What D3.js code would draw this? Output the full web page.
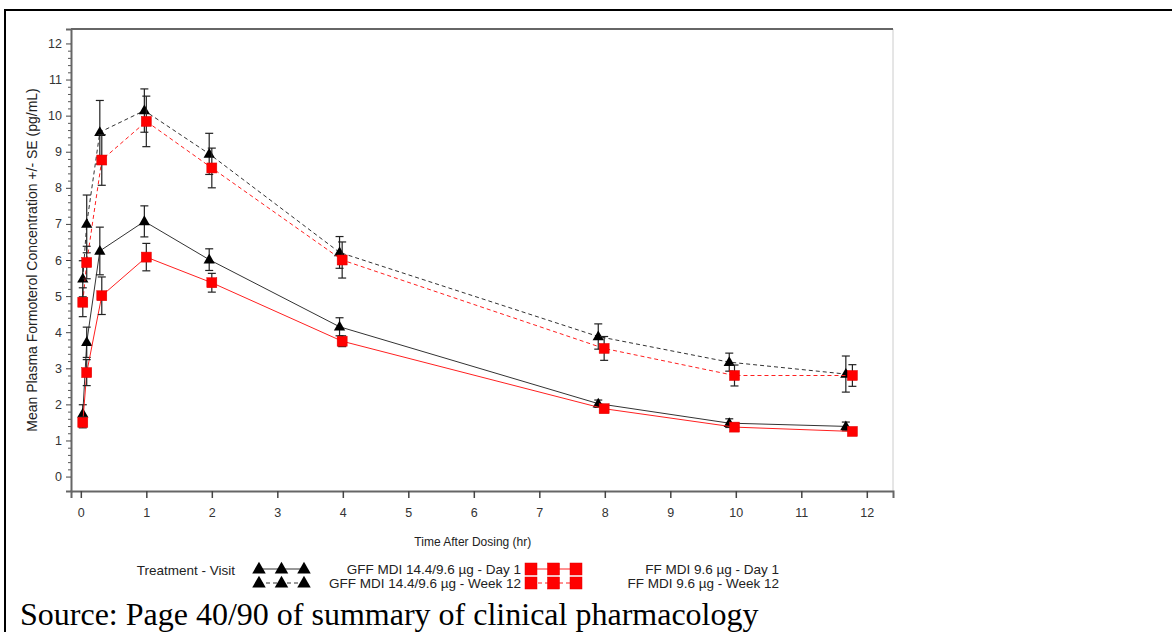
<!DOCTYPE html>
<html>
<head>
<meta charset="utf-8">
<script src="https://cdn.jsdelivr.net/npm/d3@7"></script>
<style>
  body { margin: 0; background: #fff; }
  svg text { font-family: "Liberation Sans", Arial, sans-serif; }
</style>
</head>
<body>
<div id="chart"></div>
<script>
// sampling times (hr), slightly different mean times per treatment
const gffTimes = [0.03, 0.09, 0.29, 0.97, 1.96, 3.95, 7.9, 9.9, 11.68]
const ffTimes = [0.03, 0.09, 0.32, 1.0, 2.0, 3.99, 7.99, 9.98, 11.78]

// mean concentration (pg/mL) and SE
const gffDay1 = [1.74, 3.72, 6.25, 7.07, 6.01, 4.15, 2.02, 1.48, 1.39]
const gffDay1SE = [0.25, 0.42, 0.66, 0.43, 0.3, 0.25, 0.1, 0.12, 0.12]
const gffWeek12 = [5.48, 7.0, 9.54, 10.14, 8.94, 6.21, 3.88, 3.17, 2.84]
const gffWeek12SE = [0.5, 0.8, 0.88, 0.6, 0.57, 0.44, 0.35, 0.25, 0.5]
const ffDay1 = [1.5, 2.88, 5.01, 6.08, 5.37, 3.75, 1.88, 1.37, 1.25]
const ffDay1SE = [0.15, 0.36, 0.52, 0.38, 0.26, 0.15, 0.1, 0.1, 0.08]
const ffWeek12 = [4.83, 5.93, 8.77, 9.84, 8.55, 6.0, 3.55, 2.8, 2.8]
const ffWeek12SE = [0.4, 0.45, 0.7, 0.7, 0.55, 0.5, 0.33, 0.29, 0.3]

const xTicks = [0, 1, 2, 3, 4, 5, 6, 7, 8, 9, 10, 11, 12]
const yTicks = [0, 1, 2, 3, 4, 5, 6, 7, 8, 9, 10, 11, 12]

const seriesNames = [
    "GFF MDI 14.4/9.6 \u00b5g - Day 1",
    "GFF MDI 14.4/9.6 \u00b5g - Week 12",
    "FF MDI 9.6 \u00b5g - Day 1",
    "FF MDI 9.6 \u00b5g - Week 12"
]

const W = 1172, H = 632
const plot = { left: 71, top: 29, right: 893, bottom: 491 }

const svg = d3.select("#chart")
    .append("svg")
    .attr("width", W)
    .attr("height", H)

// page frame (table cell border)
svg.append("line").attr("x1", 4).attr("x2", W).attr("y1", 10).attr("y2", 10)
    .attr("stroke", "#000").attr("stroke-width", 2)
svg.append("line").attr("x1", 5).attr("x2", 5).attr("y1", 10).attr("y2", H)
    .attr("stroke", "#000").attr("stroke-width", 2)

const x = d3.scaleLinear().domain([-0.15, 12.4]).range([plot.left, plot.right])
const y = d3.scaleLinear().domain([-0.4, 12.4]).range([plot.bottom, plot.top])

// plot frame
svg.append("line").attr("x1", plot.right).attr("x2", plot.right)
    .attr("y1", plot.top).attr("y2", plot.bottom)
    .attr("stroke", "#ccc").attr("stroke-width", 1)
svg.append("line").attr("x1", plot.left).attr("x2", plot.right)
    .attr("y1", plot.top).attr("y2", plot.top)
    .attr("stroke", "#666").attr("stroke-width", 2)

// X axis
let xAxis = svg.append("g")
    .attr("transform", "translate(0," + plot.bottom + ")")
    .call(d3.axisBottom(x).tickValues(xTicks).tickSize(7).tickPadding(10).tickFormat(d3.format("d")))
xAxis.select(".domain").attr("stroke", "#666").attr("stroke-width", 2)
xAxis.selectAll(".tick line").attr("stroke", "#444").attr("stroke-width", 1.5)
xAxis.selectAll("text").attr("fill", "#333").style("font-size", "12.5px")

// Y axis, minor ticks every 0.2
let minor = d3.range(0, 12.01, 0.2).filter(v => Math.abs(v - Math.round(v)) > 0.01)
svg.append("g")
    .attr("transform", "translate(" + plot.left + ",0)")
    .call(d3.axisLeft(y).tickValues(minor).tickSize(3).tickFormat(""))
    .call(g => g.select(".domain").remove())
    .selectAll("line").attr("stroke", "#555")

let yAxis = svg.append("g")
    .attr("transform", "translate(" + plot.left + ",0)")
    .call(d3.axisLeft(y).tickValues(yTicks).tickSize(5).tickPadding(4).tickFormat(d3.format("d")))
yAxis.select(".domain").attr("stroke", "#666").attr("stroke-width", 2)
yAxis.selectAll(".tick line").attr("stroke", "#444")
yAxis.selectAll("text").attr("fill", "#333").style("font-size", "12.5px")

// axis titles
svg.append("text")
    .attr("x", (x(0) + x(12)) / 2 - 1)
    .attr("y", 546)
    .attr("text-anchor", "middle")
    .attr("fill", "#222")
    .style("font-size", "12px")
    .text("Time After Dosing (hr)")

svg.append("text")
    .attr("transform", "translate(37," + 260 + ") rotate(-90)")
    .attr("text-anchor", "middle")
    .attr("fill", "#222")
    .style("font-size", "14px")
    .text("Mean Plasma Formoterol Concentration +/- SE (pg/mL)")

function buildSeries(times, means, ses) {
    return times.map((t, i) => ({ t: t, v: means[i], se: ses[i] }))
}

const series = [
    { data: buildSeries(gffTimes, gffDay1, gffDay1SE), color: "#333", dash: null, shape: "tri" },
    { data: buildSeries(gffTimes, gffWeek12, gffWeek12SE), color: "#333", dash: "4,3", shape: "tri" },
    { data: buildSeries(ffTimes, ffDay1, ffDay1SE), color: "#ff2020", dash: null, shape: "sq" },
    { data: buildSeries(ffTimes, ffWeek12, ffWeek12SE), color: "#ff2020", dash: "4,3", shape: "sq" }
]

function drawMarker(g, shape, px, py, size) {
    if (shape == "tri") {
        g.append("path")
            .attr("d", d3.symbol().type(d3.symbolTriangle).size(size * size * 0.55)())
            .attr("transform", "translate(" + px + "," + (py + 0.5) + ")")
            .attr("fill", "#000")
    } else {
        g.append("rect")
            .attr("x", px - size / 2).attr("y", py - size / 2)
            .attr("width", size).attr("height", size)
            .attr("fill", "#f00")
            .attr("stroke", "#d00").attr("stroke-width", 0.5)
    }
}

const line = d3.line()
    .x(d => x(d.t))
    .y(d => y(d.v))

series.forEach(s => {
    let g = svg.append("g")

    g.append("path")
        .datum(s.data)
        .attr("fill", "none")
        .attr("stroke", s.color)
        .attr("stroke-width", 1)
        .attr("stroke-dasharray", s.dash)
        .attr("d", line)

    // error bars
    s.data.forEach(d => {
        let px = x(d.t)
        g.append("line")
            .attr("x1", px).attr("x2", px)
            .attr("y1", y(d.v - d.se)).attr("y2", y(d.v + d.se))
            .attr("stroke", "#222").attr("stroke-width", 1.2)
        ;[d.v - d.se, d.v + d.se].forEach(e => {
            g.append("line")
                .attr("x1", px - 4).attr("x2", px + 4)
                .attr("y1", y(e)).attr("y2", y(e))
                .attr("stroke", "#222").attr("stroke-width", 1.2)
        })
    })

    s.data.forEach(d => drawMarker(g, s.shape, x(d.t), y(d.v), 10))
})

// legend
let legend = svg.append("g")
legend.append("text")
    .attr("x", 235).attr("y", 575)
    .attr("text-anchor", "end")
    .attr("fill", "#222")
    .style("font-size", "13.5px")
    .text("Treatment - Visit")

const legendRows = [569, 583]
series.forEach((s, i) => {
    let row = legendRows[i % 2]
    let x0 = s.shape == "tri" ? 259 : 531
    let x1 = x0 + 45
    legend.append("line")
        .attr("x1", x0).attr("x2", x1)
        .attr("y1", row).attr("y2", row)
        .attr("stroke", s.color)
        .attr("stroke-dasharray", s.dash)
    ;[x0, x0 + 22.5, x1].forEach(px => drawMarker(legend, s.shape, px, row, 12))
    legend.append("text")
        .attr("x", s.shape == "tri" ? 521 : 779)
        .attr("y", row + 5)
        .attr("text-anchor", "end")
        .attr("fill", "#222")
        .style("font-size", "13.5px")
        .text(seriesNames[i])
})

// source note
svg.append("text")
    .attr("x", 20).attr("y", 625)
    .style("font-family", "'Liberation Serif', 'Times New Roman', serif")
    .style("font-size", "32px")
    .attr("fill", "#000")
    .text("Source: Page 40/90 of summary of clinical pharmacology")
</script>
</body>
</html>
